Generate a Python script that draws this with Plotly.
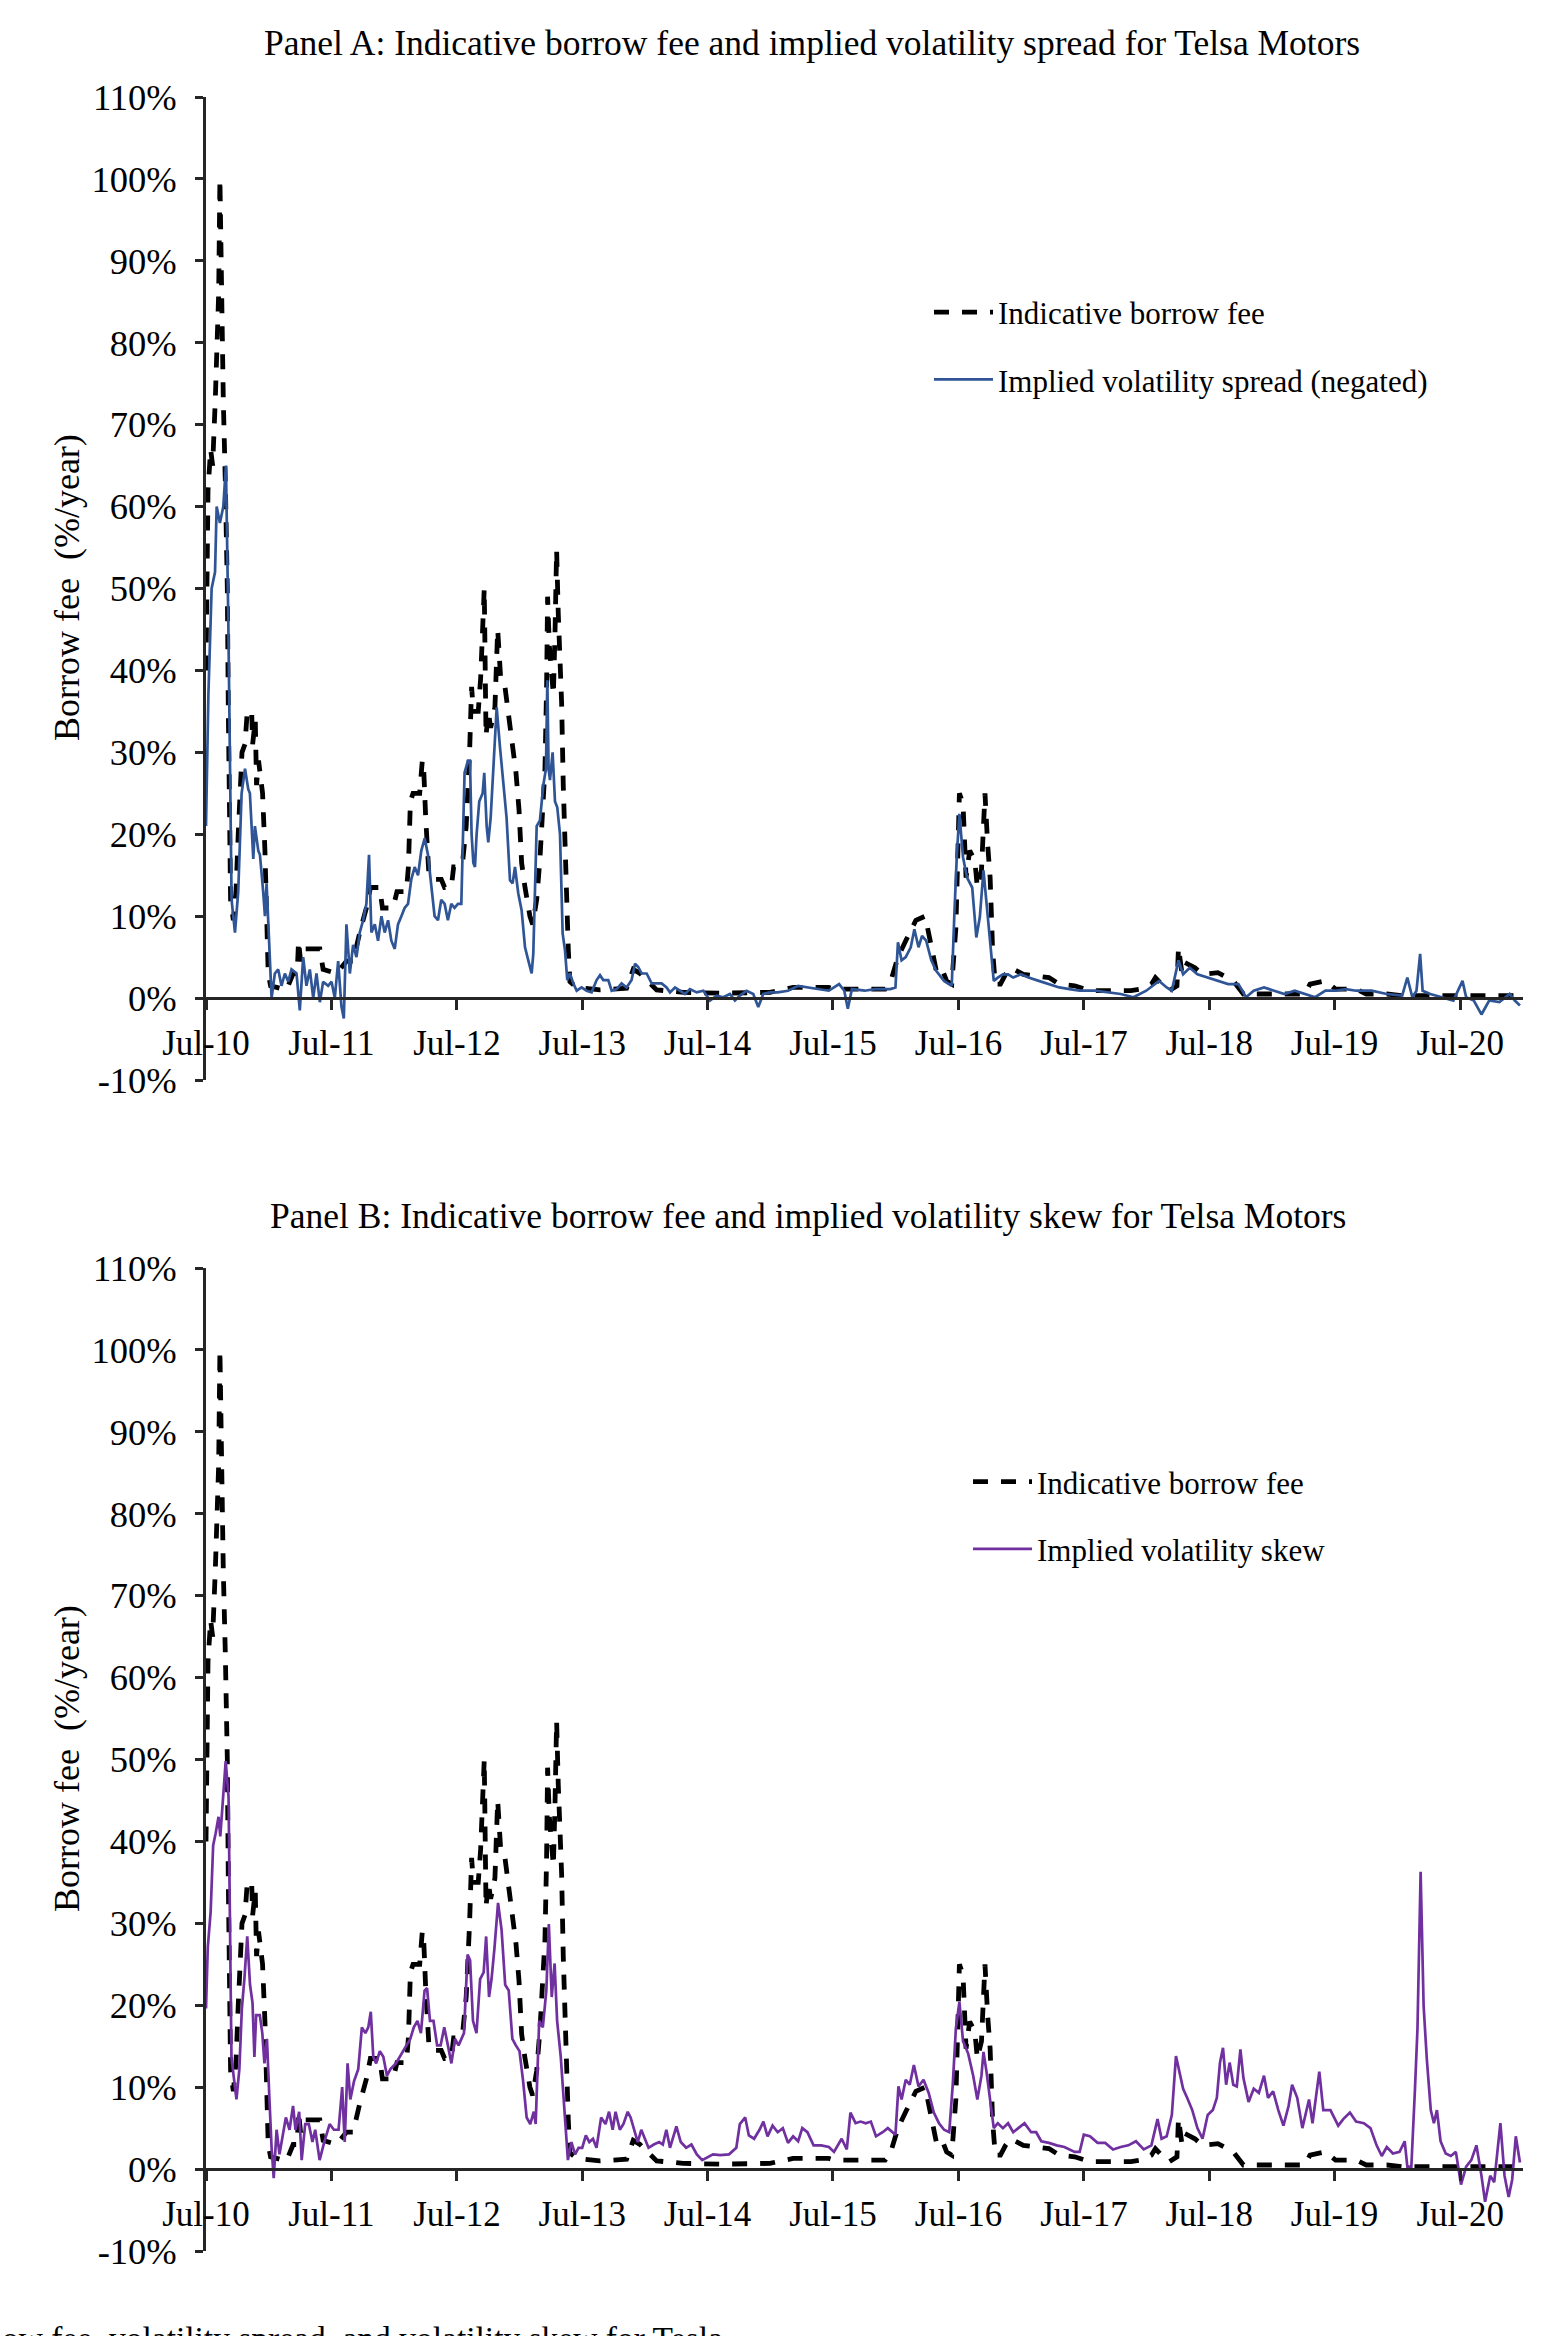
import pandas as pd
import plotly.graph_objects as go

# ---------------- data (time in decimal years, values in %/year) ----------------
fee_t = [
    2010.500, 2010.505, 2010.516, 2010.537, 2010.553, 2010.574, 2010.590, 2010.601, 2010.611, 2010.619,
    2010.627, 2010.638, 2010.654, 2010.670, 2010.678, 2010.686, 2010.696, 2010.718, 2010.739, 2010.757,
    2010.771, 2010.787, 2010.811, 2010.829, 2010.864, 2010.872, 2010.893, 2010.903, 2010.919, 2010.951,
    2010.970, 2010.983, 2010.996, 2011.015, 2011.142, 2011.195, 2011.227, 2011.238, 2011.254, 2011.280,
    2011.408, 2011.434, 2011.540, 2011.620, 2011.673, 2011.726, 2011.779, 2011.811, 2011.885, 2011.907,
    2011.992, 2012.023, 2012.098, 2012.114, 2012.130, 2012.151, 2012.204, 2012.225, 2012.236, 2012.252,
    2012.278, 2012.310, 2012.376, 2012.403, 2012.456, 2012.475, 2012.522, 2012.549, 2012.575, 2012.602,
    2012.618, 2012.632, 2012.671, 2012.690, 2012.719, 2012.733, 2012.751, 2012.770, 2012.804, 2012.826,
    2012.850, 2012.884, 2012.911, 2012.937, 2012.972, 2012.996, 2013.017, 2013.044, 2013.083, 2013.105,
    2013.137, 2013.163, 2013.184, 2013.203, 2013.216, 2013.224, 2013.238, 2013.254, 2013.270, 2013.283,
    2013.296, 2013.309, 2013.323, 2013.336, 2013.349, 2013.363, 2013.376, 2013.389, 2013.402, 2013.456,
    2013.642, 2013.854, 2013.907, 2013.961, 2014.094, 2014.306, 2014.625, 2014.997, 2015.182, 2015.467,
    2015.508, 2015.916, 2015.957, 2016.018, 2016.080, 2016.161, 2016.235, 2016.284, 2016.324, 2016.365,
    2016.406, 2016.447, 2016.480, 2016.508, 2016.537, 2016.561, 2016.590, 2016.631, 2016.651, 2016.684,
    2016.712, 2016.733, 2016.753, 2016.773, 2016.794, 2016.835, 2016.876, 2016.916, 2017.018, 2017.222,
    2017.304, 2017.427, 2017.549, 2017.876, 2017.957, 2018.039, 2018.071, 2018.120, 2018.182, 2018.243,
    2018.255, 2018.284, 2018.324, 2018.386, 2018.447, 2018.569, 2018.692, 2018.773, 2019.263, 2019.304,
    2019.427, 2019.508, 2019.671, 2019.753, 2019.916, 2020.039, 2020.978]
fee_v = [
    40, 55, 62, 67, 65, 73, 80, 86, 100, 88,
    82, 73, 63, 50, 35, 20, 12, 9.5, 13, 20,
    25, 30, 31, 35, 35, 31, 34, 26, 29, 25,
    18, 8, 3, 1.5, 1, 3, 3, 7, 4.5, 6,
    6, 3.5, 3, 4.5, 4.5, 8, 11, 13.5, 13.5, 11,
    11, 13, 13, 16, 24, 25, 25, 29, 28, 22,
    15, 14.5, 14.5, 13.5, 13.5, 16, 16, 17, 21, 30,
    38, 35, 35, 39, 50, 32, 35, 33, 35.5, 45,
    39, 38, 34.5, 31, 27.5, 23, 16.5, 13.5, 10, 9,
    12, 17, 22.5, 28, 38, 49, 43, 40, 37, 44.5,
    54.7, 47, 42, 36, 26, 17, 10, 6, 2, 1.3,
    1, 1.2, 3.5, 3.0, 1.0, 0.7, 0.6, 0.7, 1.3, 1.3,
    1.1, 1.1, 1.9, 5, 7, 9.5, 10, 6.6, 3.3, 3.7,
    2.1, 1.7, 8.6, 25, 23.7, 14.7, 18, 16.8, 13.5, 15.6,
    25, 18.8, 14.7, 5.8, 1.7, 1.7, 2.9, 3.7, 2.9, 2.5,
    1.7, 1.5, 0.9, 0.9, 1.1, 1.7, 2.5, 1.7, 0.9, 1.5,
    6.2, 2.9, 4.2, 3.7, 2.9, 3.1, 2.1, 0.5, 0.5, 1.7,
    2.1, 1.1, 1.1, 0.5, 0.5, 0.3, 0.3]

spread_t = [
    2010.500, 2010.519, 2010.545, 2010.572, 2010.585, 2010.611, 2010.638, 2010.659, 2010.678, 2010.691,
    2010.704, 2010.731, 2010.757, 2010.784, 2010.811, 2010.837, 2010.850, 2010.877, 2010.890, 2010.917,
    2010.930, 2010.956, 2010.970, 2010.983, 2010.999, 2011.015, 2011.023, 2011.049, 2011.076, 2011.102,
    2011.129, 2011.156, 2011.182, 2011.222, 2011.248, 2011.275, 2011.301, 2011.328, 2011.355, 2011.381,
    2011.408, 2011.434, 2011.474, 2011.501, 2011.527, 2011.554, 2011.580, 2011.599, 2011.620, 2011.647,
    2011.673, 2011.700, 2011.726, 2011.753, 2011.779, 2011.800, 2011.819, 2011.846, 2011.872, 2011.899,
    2011.925, 2011.952, 2011.978, 2012.005, 2012.031, 2012.058, 2012.084, 2012.111, 2012.137, 2012.164,
    2012.191, 2012.217, 2012.244, 2012.270, 2012.297, 2012.323, 2012.350, 2012.376, 2012.403, 2012.429,
    2012.456, 2012.482, 2012.509, 2012.536, 2012.562, 2012.589, 2012.605, 2012.618, 2012.632, 2012.645,
    2012.658, 2012.679, 2012.706, 2012.719, 2012.738, 2012.751, 2012.770, 2012.791, 2012.818, 2012.844,
    2012.871, 2012.897, 2012.924, 2012.945, 2012.964, 2012.990, 2013.017, 2013.044, 2013.070, 2013.097,
    2013.110, 2013.137, 2013.163, 2013.190, 2013.211, 2013.222, 2013.232, 2013.243, 2013.264, 2013.283,
    2013.301, 2013.323, 2013.344, 2013.363, 2013.381, 2013.402, 2013.429, 2013.456, 2013.495, 2013.535,
    2013.575, 2013.615, 2013.642, 2013.668, 2013.708, 2013.735, 2013.775, 2013.814, 2013.854, 2013.894,
    2013.921, 2013.947, 2013.974, 2014.014, 2014.054, 2014.094, 2014.133, 2014.173, 2014.200, 2014.240,
    2014.280, 2014.319, 2014.359, 2014.413, 2014.466, 2014.519, 2014.572, 2014.625, 2014.678, 2014.718,
    2014.758, 2014.811, 2014.864, 2014.904, 2014.944, 2014.997, 2015.059, 2015.141, 2015.222, 2015.304,
    2015.386, 2015.467, 2015.549, 2015.590, 2015.618, 2015.651, 2015.753, 2015.835, 2015.957, 2015.998,
    2016.018, 2016.047, 2016.080, 2016.120, 2016.149, 2016.182, 2016.210, 2016.243, 2016.284, 2016.324,
    2016.386, 2016.447, 2016.467, 2016.488, 2016.508, 2016.537, 2016.569, 2016.610, 2016.643, 2016.671,
    2016.700, 2016.724, 2016.753, 2016.782, 2016.814, 2016.855, 2016.896, 2016.937, 2016.998, 2017.059,
    2017.141, 2017.222, 2017.304, 2017.386, 2017.467, 2017.590, 2017.712, 2017.794, 2017.896, 2017.998,
    2018.100, 2018.161, 2018.202, 2018.255, 2018.292, 2018.345, 2018.406, 2018.488, 2018.569, 2018.651,
    2018.733, 2018.794, 2018.855, 2018.937, 2019.018, 2019.100, 2019.182, 2019.263, 2019.345, 2019.427,
    2019.508, 2019.590, 2019.671, 2019.794, 2019.916, 2020.039, 2020.080, 2020.120, 2020.153, 2020.182,
    2020.202, 2020.263, 2020.365, 2020.447, 2020.520, 2020.549, 2020.610, 2020.671, 2020.733, 2020.814,
    2020.896, 2020.937, 2020.978]
spread_v = [
    21, 37, 50, 52, 60, 58, 60, 65, 46, 24,
    12, 8, 13, 25, 28, 25.5, 25, 17, 21, 18,
    17.5, 13, 10, 14, 8, 1, 0, 3, 3.5, 1.5,
    3, 2, 3.5, 3, -1.5, 5, 1.5, 3.5, 0, 3,
    -0.5, 2, 1.5, 2, 0, 4.5, -1, -2.5, 9, 3,
    6.5, 5, 8, 9.5, 11.5, 17.5, 8, 9, 7, 10,
    8, 9.5, 7, 6, 9, 10, 11, 11.5, 14.5, 16,
    15, 18, 19.5, 17.5, 14, 10, 9.5, 12, 11.5, 9.5,
    11.5, 11, 11.5, 11.5, 27.5, 29, 29, 20, 16.5, 16,
    20, 24, 25, 27.5, 21, 19, 22, 28, 35.5, 30.7,
    26, 22, 14.4, 14, 16, 12.8, 10.7, 6.2, 4.6, 3,
    5.4, 21, 21.7, 26, 28, 38.8, 28, 26.6, 30, 24,
    23.3, 20, 7.9, 5.8, 2.2, 3, 1.8, 0.9, 1.3, 0.9,
    0.7, 2.2, 2.8, 2.2, 2.2, 0.9, 1.1, 1.8, 1.3, 2.2,
    4.2, 3.8, 3, 3, 1.8, 1.8, 1.8, 1.3, 0.7, 1.3,
    0.9, 0.5, 1.1, 0.7, 0.9, -0.3, 0.3, 0.1, 0.5, -0.3,
    0.3, 0.9, 0.5, -1.1, 0.5, 0.7, 0.7, 0.9, 1.5, 1.3,
    1.1, 0.9, 1.7, 0.9, -1.3, 1.1, 0.9, 1.1, 1.1, 1.3,
    6.8, 4.6, 5, 6.2, 8.4, 6.2, 7.6, 7, 4.6, 3.3,
    2.1, 1.5, 9.9, 17.6, 22.5, 17.2, 14.7, 13.5, 7.4, 9.9,
    15.6, 11.9, 7.4, 2.1, 2.5, 2.9, 2.9, 2.5, 2.9, 2.5,
    2.1, 1.7, 1.3, 1.1, 0.9, 0.9, 0.7, 0.5, 0.1, 0.9,
    2.1, 1.3, 0.9, 4.6, 2.9, 3.7, 2.9, 2.5, 2.1, 1.7,
    1.7, 0.1, 0.9, 1.3, 0.9, 0.5, 0.9, 0.5, 0.1, 0.9,
    0.9, 1.1, 0.9, 0.9, 0.5, 0.3, 2.5, 0.1, 0.9, 5.4,
    0.9, 0.5, 0.1, -0.3, 2.1, 0.1, -0.3, -2.0, -0.3, -0.5,
    0.5, -0.3, -0.9]

skew_t = [
    2010.500, 2010.514, 2010.537, 2010.557, 2010.577, 2010.600, 2010.614, 2010.634, 2010.657, 2010.680,
    2010.691, 2010.703, 2010.720, 2010.743, 2010.766, 2010.786, 2010.806, 2010.829, 2010.851, 2010.871,
    2010.886, 2010.900, 2010.929, 2010.949, 2010.966, 2010.986, 2011.006, 2011.023, 2011.040, 2011.063,
    2011.086, 2011.109, 2011.137, 2011.166, 2011.194, 2011.214, 2011.243, 2011.263, 2011.291, 2011.320,
    2011.349, 2011.371, 2011.406, 2011.443, 2011.486, 2011.520, 2011.557, 2011.586, 2011.606, 2011.629,
    2011.651, 2011.680, 2011.714, 2011.743, 2011.771, 2011.794, 2011.814, 2011.834, 2011.857, 2011.886,
    2011.914, 2011.943, 2011.971, 2012.014, 2012.043, 2012.071, 2012.100, 2012.129, 2012.157, 2012.186,
    2012.214, 2012.243, 2012.263, 2012.286, 2012.314, 2012.343, 2012.371, 2012.400, 2012.429, 2012.457,
    2012.486, 2012.514, 2012.557, 2012.586, 2012.606, 2012.629, 2012.657, 2012.686, 2012.714, 2012.734,
    2012.757, 2012.777, 2012.800, 2012.829, 2012.857, 2012.886, 2012.914, 2012.943, 2012.971, 2013.000,
    2013.029, 2013.057, 2013.086, 2013.114, 2013.129, 2013.157, 2013.186, 2013.214, 2013.234, 2013.257,
    2013.280, 2013.300, 2013.329, 2013.357, 2013.386, 2013.414, 2013.443, 2013.471, 2013.500, 2013.529,
    2013.557, 2013.586, 2013.614, 2013.651, 2013.686, 2013.714, 2013.743, 2013.766, 2013.800, 2013.829,
    2013.863, 2013.886, 2013.914, 2013.943, 2013.971, 2014.000, 2014.029, 2014.071, 2014.114, 2014.143,
    2014.171, 2014.200, 2014.251, 2014.286, 2014.329, 2014.371, 2014.414, 2014.457, 2014.500, 2014.543,
    2014.600, 2014.671, 2014.729, 2014.757, 2014.800, 2014.829, 2014.871, 2014.914, 2014.945, 2014.978,
    2015.018, 2015.059, 2015.100, 2015.141, 2015.182, 2015.222, 2015.255, 2015.296, 2015.345, 2015.406,
    2015.467, 2015.508, 2015.569, 2015.610, 2015.639, 2015.680, 2015.720, 2015.761, 2015.802, 2015.843,
    2015.896, 2015.937, 2015.998, 2016.022, 2016.047, 2016.080, 2016.112, 2016.145, 2016.182, 2016.222,
    2016.263, 2016.304, 2016.345, 2016.386, 2016.427, 2016.455, 2016.480, 2016.508, 2016.537, 2016.578,
    2016.618, 2016.651, 2016.684, 2016.700, 2016.724, 2016.753, 2016.782, 2016.814, 2016.855, 2016.896,
    2016.937, 2016.978, 2017.027, 2017.080, 2017.120, 2017.161, 2017.222, 2017.284, 2017.345, 2017.427,
    2017.467, 2017.500, 2017.549, 2017.610, 2017.671, 2017.733, 2017.794, 2017.855, 2017.916, 2017.978,
    2018.039, 2018.088, 2018.120, 2018.161, 2018.202, 2018.235, 2018.263, 2018.292, 2018.324, 2018.365,
    2018.406, 2018.447, 2018.488, 2018.529, 2018.561, 2018.586, 2018.610, 2018.635, 2018.663, 2018.692,
    2018.720, 2018.749, 2018.773, 2018.814, 2018.855, 2018.896, 2018.937, 2018.969, 2019.010, 2019.051,
    2019.092, 2019.133, 2019.161, 2019.202, 2019.243, 2019.296, 2019.324, 2019.378, 2019.410, 2019.467,
    2019.529, 2019.569, 2019.622, 2019.671, 2019.733, 2019.786, 2019.835, 2019.876, 2019.916, 2019.965,
    2020.018, 2020.059, 2020.080, 2020.112, 2020.141, 2020.161, 2020.186, 2020.210, 2020.235, 2020.267,
    2020.292, 2020.316, 2020.345, 2020.386, 2020.427, 2020.467, 2020.508, 2020.549, 2020.590, 2020.631,
    2020.671, 2020.700, 2020.741, 2020.773, 2020.822, 2020.855, 2020.888, 2020.916, 2020.945, 2020.978]
skew_v = [
    19.6, 27, 31.4, 39.5, 41, 43, 40.6, 45.4, 49.8, 45.4,
    30.6, 13.7, 11.4, 8.5, 12.2, 19.6, 23.2, 28.4, 22.5, 20.3,
    13.7, 18.8, 18.8, 16.6, 12.9, 15.9, 8.5, 2.6, -1.1, 4.8,
    1.8, 4.1, 6.3, 4.8, 7.7, 4.8, 7.0, 1.1, 5.5, 5.5,
    3.3, 4.8, 1.1, 3.3, 5.5, 4.8, 4.8, 10, 3.3, 12.9,
    8.5, 10.7, 12.2, 17.3, 16.6, 17.3, 19.2, 13.7, 12.9, 14.4,
    13.7, 11.4, 12.2, 12.9, 13.7, 14.4, 15.1, 15.9, 17.3, 18.1,
    16.6, 21.8, 22.1, 18.1, 18.1, 15.1, 15.1, 17.3, 15.1, 12.9,
    15.9, 15.1, 16.6, 26.2, 25.5, 18.1, 16.6, 23.2, 24.0, 28.4,
    21.0, 23.2, 26.9, 32.5, 29.2, 22.5, 21.8, 15.9, 15.1, 14.4,
    10.7, 6.3, 5.5, 7.0, 5.5, 18.1, 17.3, 21.8, 29.9, 21.0,
    25.1, 18.1, 13.7, 7.0, 1.1, 3.3, 1.8, 2.6, 2.6, 4.1,
    3.3, 3.7, 2.6, 6.3, 5.5, 7.0, 4.8, 7.0, 4.8, 5.5,
    7.0, 6.3, 4.8, 3.3, 4.8, 3.7, 2.6, 3.0, 3.3, 3.0,
    4.8, 2.6, 5.2, 3.3, 2.6, 3.0, 1.8, 1.1, 1.5, 1.8,
    1.7, 1.8, 2.6, 5.5, 6.3, 4.1, 3.7, 4.8, 5.8, 4.0,
    5.3, 4.5, 5.0, 3.2, 4.0, 3.4, 5.0, 4.5, 2.9, 2.9,
    2.7, 2.1, 3.7, 2.4, 6.9, 5.6, 5.8, 5.6, 5.8, 4.0,
    4.5, 5.0, 4.2, 10.1, 8.5, 10.9, 10.3, 12.7, 10.1, 10.9,
    9.3, 6.9, 5.6, 4.8, 4.5, 10.3, 17.2, 20.4, 15.6, 14.1,
    11.4, 8.5, 11.4, 14.3, 11.9, 8.7, 5.0, 5.6, 5.0, 5.6,
    4.5, 5.0, 5.6, 4.5, 4.5, 3.4, 3.2, 2.9, 2.7, 2.1,
    2.1, 4.2, 4.0, 3.2, 3.2, 2.4, 2.7, 2.9, 3.4, 2.4,
    2.9, 6.1, 3.7, 4.0, 6.6, 13.8, 11.9, 9.8, 8.7, 7.2,
    5.0, 3.7, 6.6, 7.2, 8.7, 13.0, 14.8, 10.3, 13.0, 10.3,
    10.1, 14.6, 11.1, 8.2, 9.8, 9.3, 11.4, 8.7, 9.5, 7.2,
    5.3, 7.7, 10.3, 8.7, 5.0, 8.5, 5.6, 11.9, 7.2, 7.2,
    5.3, 6.1, 6.9, 5.8, 5.6, 5.0, 2.9, 1.6, 2.7, 1.9,
    2.1, 3.4, 0.3, 0.3, 9.8, 17.2, 36.3, 19.9, 13.5, 7.2,
    5.6, 7.2, 3.4, 1.9, 1.6, 2.1, -1.9, 0.3, 1.1, 2.9,
    -0.8, -4.0, -0.8, -1.6, 5.6, -0.8, -3.4, -1.3, 4.0, 0.8]

x_tick_dates = ['2010-07-01', '2011-07-01', '2012-07-01', '2013-07-01', '2014-07-01', '2015-07-01',
                '2016-07-01', '2017-07-01', '2018-07-01', '2019-07-01', '2020-07-01']
x_tick_text = ['Jul-10', 'Jul-11', 'Jul-12', 'Jul-13', 'Jul-14', 'Jul-15',
               'Jul-16', 'Jul-17', 'Jul-18', 'Jul-19', 'Jul-20']
y_tick_vals = [-10, 0, 10, 20, 30, 40, 50, 60, 70, 80, 90, 100, 110]
y_tick_text = ['-10%', '0%', '10%', '20%', '30%', '40%', '50%', '60%', '70%', '80%', '90%', '100%', '110%']

assert len(fee_t) == len(fee_v)
assert len(spread_t) == len(spread_v)
assert len(skew_t) == len(skew_v)


def to_dates(ts):
    base = pd.Timestamp('2010-07-01')
    return [base + pd.Timedelta(days=(t - 2010.5) * 365.25) for t in ts]


fee_d = to_dates(fee_t)
spread_d = to_dates(spread_t)
skew_d = to_dates(skew_t)

# ---------------- layout geometry ----------------
FW, FH = 1557, 2336
ML, MR, MT, MB = 206, 34, 97, 85
PW = FW - ML - MR
PH = FH - MT - MB
FONT = 'Liberation Serif, Times New Roman, serif'
AX = '#262626'
BLUE = '#2F5597'
PURPLE = '#7030A0'


def pxx(p):
    return (p - ML) / PW


def pxy(p):
    return (FH - MB - p) / PH


domA = [pxy(1080), 1.0]
domB = [0.0, pxy(1268)]
Y0, Y1 = -10, 110


def zero_pos(dom):
    return dom[0] + (0 - Y0) / (Y1 - Y0) * (dom[1] - dom[0])


fee_dash = '15px,13px'

fig = go.Figure()
fig.add_trace(go.Scatter(x=fee_d, y=fee_v, mode='lines', name='Indicative borrow fee',
                         line=dict(color='black', width=4.8, dash=fee_dash),
                         xaxis='x', yaxis='y', legend='legend', legendgroup='a1'))
fig.add_trace(go.Scatter(x=spread_d, y=spread_v, mode='lines', name='Implied volatility spread (negated)',
                         line=dict(color=BLUE, width=2.7),
                         xaxis='x', yaxis='y', legend='legend', legendgroup='a2'))
fig.add_trace(go.Scatter(x=fee_d, y=fee_v, mode='lines', name='Indicative borrow fee',
                         line=dict(color='black', width=4.8, dash=fee_dash),
                         xaxis='x2', yaxis='y2', legend='legend2', legendgroup='b1'))
fig.add_trace(go.Scatter(x=skew_d, y=skew_v, mode='lines', name='Implied volatility skew',
                         line=dict(color=PURPLE, width=2.7),
                         xaxis='x2', yaxis='y2', legend='legend2', legendgroup='b2'))

xcommon = dict(type='date', range=['2010-07-01', '2020-12-31'], domain=[0, 1],
               tickmode='array', tickvals=x_tick_dates, ticktext=x_tick_text,
               ticks='outside', ticklen=10, tickwidth=3, tickcolor=AX,
               showline=True, linewidth=3, linecolor=AX, showgrid=False, zeroline=False,
               tickfont=dict(family=FONT, size=35, color='black'), ticklabelstandoff=3,
               anchor='free', fixedrange=True)
ycommon = dict(range=[Y0, Y1], tickmode='array', tickvals=y_tick_vals, ticktext=y_tick_text,
               ticks='outside', ticklen=8, tickwidth=3, tickcolor=AX,
               showline=True, linewidth=3, linecolor=AX, showgrid=False, zeroline=False,
               tickfont=dict(family=FONT, size=36.5, color='black'), ticklabelstandoff=11,
               fixedrange=True)

legend_common = dict(xanchor='left', yanchor='top', bgcolor='rgba(0,0,0,0)', borderwidth=0,
                     font=dict(family=FONT, size=31, color='black'), itemwidth=59,
                     tracegroupgap=24, traceorder='grouped')

ann_font = dict(family=FONT, size=35.5, color='black')
annotations = [
    dict(text='Panel A: Indicative borrow fee and implied volatility spread for Telsa Motors',
         x=pxx(812), y=pxy(43), xref='paper', yref='paper', showarrow=False,
         xanchor='center', yanchor='middle', font=ann_font),
    dict(text='Panel B: Indicative borrow fee and implied volatility skew for Telsa Motors',
         x=pxx(808), y=pxy(1216), xref='paper', yref='paper', showarrow=False,
         xanchor='center', yanchor='middle', font=ann_font),
    dict(text='Borrow fee \u00a0(%/year)', textangle=-90,
         x=pxx(67), y=pxy(588), xref='paper', yref='paper', showarrow=False,
         xanchor='center', yanchor='middle', font=dict(family=FONT, size=36, color='black')),
    dict(text='Borrow fee \u00a0(%/year)', textangle=-90,
         x=pxx(67), y=pxy(1759), xref='paper', yref='paper', showarrow=False,
         xanchor='center', yanchor='middle', font=dict(family=FONT, size=36, color='black')),
    dict(text='ow fee, volatility spread, and volatility skew for Tesla',
         x=pxx(0), y=pxy(2318), xref='paper', yref='paper', showarrow=False,
         xanchor='left', yanchor='top', font=dict(family=FONT, size=33.5, color='black')),
]

fig.update_layout(
    width=FW, height=FH, autosize=False,
    margin=dict(l=ML, r=MR, t=MT, b=MB, autoexpand=False),
    paper_bgcolor='white', plot_bgcolor='white',
    font=dict(family=FONT, color='black'),
    xaxis=dict(xcommon, position=zero_pos(domA)),
    xaxis2=dict(xcommon, position=zero_pos(domB)),
    yaxis=dict(ycommon, domain=domA, anchor='x'),
    yaxis2=dict(ycommon, domain=domB, anchor='x2'),
    legend=dict(legend_common, x=pxx(929), y=pxy(285.5)),
    legend2=dict(legend_common, x=pxx(968), y=pxy(1455)),
    annotations=annotations,
    showlegend=True,
)

fig.write_html('out.html', config={'displayModeBar': False, 'responsive': False})
